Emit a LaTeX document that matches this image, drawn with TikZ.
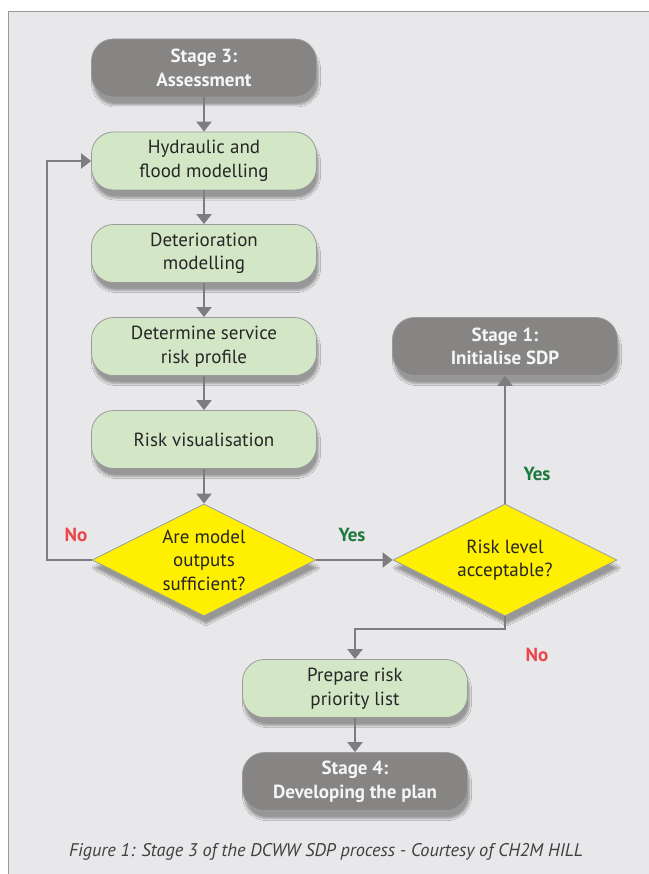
\documentclass[tikz,border=0pt]{standalone}
\usepackage{fontspec}
\setmainfont{PT Sans}
\usetikzlibrary{shapes.geometric,shadows.blur,arrows.meta}

\definecolor{panelgray}{HTML}{E8E8EA}
\definecolor{framegray}{HTML}{9A9A9C}
\definecolor{stagegray}{HTML}{868584}
\definecolor{taskgreen}{HTML}{D3E7C7}
\definecolor{queryyellow}{HTML}{FFEF00}
\definecolor{linegray}{HTML}{7D7D80}
\definecolor{yesgreen}{HTML}{1E7A3C}
\definecolor{nored}{HTML}{E8474D}

\tikzset{
  box/.style={rectangle, rounded corners=22pt, minimum width=225pt, minimum height=58pt,
    align=center, draw=framegray, line width=0.8pt,
    font=\fontsize{19}{23.5}\selectfont,
    blur shadow={shadow xshift=2pt, shadow yshift=-8pt, shadow blur steps=8, shadow opacity=35}},
  stage/.style={box, fill=stagegray, text=white!96!black, font=\fontsize{19}{23.5}\selectfont\bfseries},
  task/.style={box, fill=taskgreen, text=black!85},
  query/.style={diamond, aspect=2, minimum width=224pt, minimum height=112pt, inner sep=0pt,
    align=center, fill=queryyellow, draw=framegray, line width=0.8pt, text=black!85,
    font=\fontsize{19}{23.5}\selectfont,
    blur shadow={shadow xshift=2pt, shadow yshift=-8pt, shadow blur steps=8, shadow opacity=35}},
  flow/.style={draw=linegray, line width=2.2pt, -{Triangle[width=15pt,length=10pt]}},
  answer/.style={font=\fontsize{19}{23.5}\selectfont\bfseries}
}

\begin{document}
\begin{tikzpicture}[x=1pt,y=-1pt]
  \useasboundingbox (0,0) rectangle (648,874);
  % Panel
  \fill[white] (0,0) rectangle (648,874);
  \draw[framegray, line width=1pt, fill=panelgray] (8,12) rectangle (660,890);

  % Main column
  \node[stage] (stage3) at (204,68) {Stage 3:\\Assessment};
  \node[task] (hydraulic) at (204,161) {Hydraulic and\\flood modelling};
  \node[task] (deterioration) at (204,253.5) {Deterioration\\modelling};
  \node[task] (profile) at (204,346.5) {Determine service\\risk profile};
  \node[task] (visual) at (204,439.5) {Risk visualisation};
  \node[query] (outputs) at (204,560) {Are model\\outputs\\sufficient?};

  % Right column
  \node[stage] (stage1) at (505,346.5) {Stage 1:\\Initialise SDP};
  \node[query] (acceptable) at (505,560) {Risk level\\acceptable?};

  % Lower column
  \node[task] (priority) at (355,688.5) {Prepare risk\\priority list};
  \node[stage] (stage4) at (355,781.5) {Stage 4:\\Developing the plan};

  % Connectors
  \draw[flow] (stage3) -- (hydraulic);
  \draw[flow] (hydraulic) -- (deterioration);
  \draw[flow] (deterioration) -- (profile);
  \draw[flow] (profile) -- (visual);
  \draw[flow] (visual) -- (outputs);
  \draw[flow] (outputs.west) -- (47,560) |- (hydraulic.west);
  \draw[flow] (outputs.east) -- (acceptable.west);
  \draw[flow] (acceptable.north) -- (stage1.south);
  \draw[flow] (acceptable.south) |- (355,629) -- (priority.north);
  \draw[flow] (priority) -- (stage4);

  % Answers
  \node[answer, text=nored] (no1) at (76,535) {No};
  \node[answer, text=yesgreen] (yes1) at (352,535) {Yes};
  \node[answer, text=yesgreen] (yes2) at (537,474) {Yes};
  \node[answer, text=nored] (no2) at (537,655) {No};

  % Caption
  \node[font=\fontsize{18.3}{22}\selectfont\itshape, text=black!75] (caption) at (326,852)
    {Figure 1: Stage 3 of the DCWW SDP process - Courtesy of CH2M HILL};
\end{tikzpicture}
\end{document}
